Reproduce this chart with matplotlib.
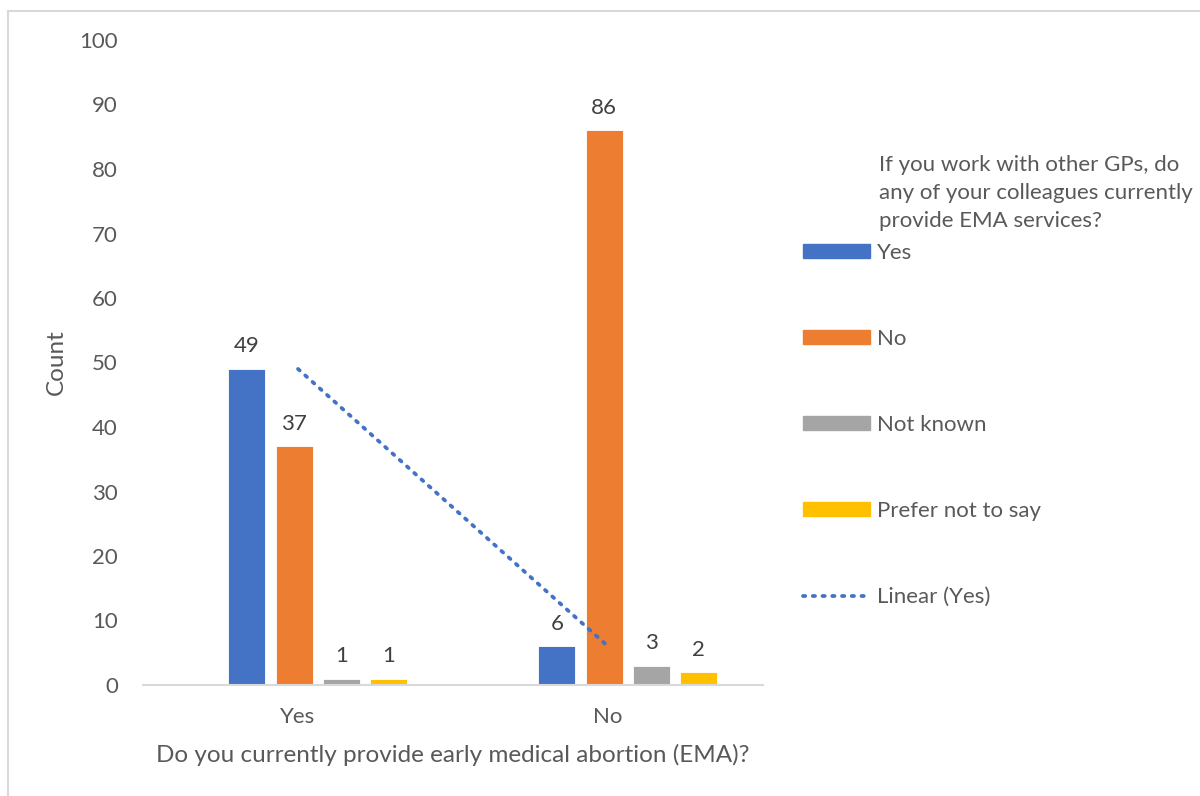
import numpy as np
import matplotlib.pyplot as plt
from matplotlib.lines import Line2D
from matplotlib.patches import Patch

plt.rcParams['font.family'] = ['Lato', 'DejaVu Sans']

categories = ["Yes", "No"]
series = ["Yes", "No", "Not known", "Prefer not to say"]
counts = {
    "Yes": [49, 6],
    "No": [37, 86],
    "Not known": [1, 3],
    "Prefer not to say": [1, 2],
}
colors = ["#4472C4", "#ED7D31", "#A5A5A5", "#FFC000"]
legend_title = "If you work with other GPs, do\nany of your colleagues currently\nprovide EMA services?"
text_col = "#595959"

fig = plt.figure(figsize=(12, 7.96), dpi=100)
ax = fig.add_axes([143 / 1200, 1 - 685 / 796, 620 / 1200, 645 / 796])

x = np.arange(len(categories))
width = 0.12
step = 0.1527
for i, name in enumerate(series):
    bars = ax.bar(x - 0.165 + i * step, counts[name], width, color=colors[i],
                  edgecolor="white", linewidth=0.6, label=name)
    ax.bar_label(bars, padding=9, fontsize=16, color="#404040")

# linear trend for the "Yes" series across categories
fit = np.polyfit(x, counts["Yes"], 1)
trend, = ax.plot(x, np.polyval(fit, x), color="#4472C4", linestyle=(0, (0.6, 2.0)),
                 linewidth=2.7, dash_capstyle="round", label="Linear (Yes)")

ax.set_xlim(-0.5, 1.5)
ax.set_ylim(0, 100)
ax.set_yticks(range(0, 101, 10))
ax.set_xticks(x)
ax.set_xticklabels(categories)
ax.tick_params(length=0, labelsize=16, labelcolor=text_col)
ax.tick_params(axis="y", pad=18)
ax.tick_params(axis="x", pad=16)
for s in ["left", "right", "top"]:
    ax.spines[s].set_visible(False)
ax.spines["bottom"].set_color("#D9D9D9")
ax.spines["bottom"].set_linewidth(1.5)

ax.set_ylabel("Count", fontsize=17.5, color=text_col, labelpad=9)
ax.set_xlabel("Do you currently provide early medical abortion (EMA)?",
              fontsize=17.5, color=text_col, labelpad=12)

handles = [Patch(color=c) for c in colors] + [trend]
leg = fig.legend(handles, series + ["Linear (Yes)"], loc="upper left",
                 bbox_to_anchor=(783 / 1200, 1 - 223 / 796), frameon=False,
                 fontsize=16, handlelength=3.0, handleheight=0.6,
                 handletextpad=0.35, labelspacing=2.97, labelcolor=text_col)
fig.text(879 / 1200, 1 - 155 / 796, legend_title, fontsize=16, color=text_col,
         ha="left", va="top", linespacing=1.5)

# chart frame
fig.add_artist(Line2D([8 / 1200, 8 / 1200], [0, 1 - 11 / 796], color="#D9D9D9",
                      linewidth=1.5, transform=fig.transFigure))
fig.add_artist(Line2D([8 / 1200, 1], [1 - 11 / 796, 1 - 11 / 796], color="#D9D9D9",
                      linewidth=1.5, transform=fig.transFigure))

fig.savefig("out.png", dpi=100)
